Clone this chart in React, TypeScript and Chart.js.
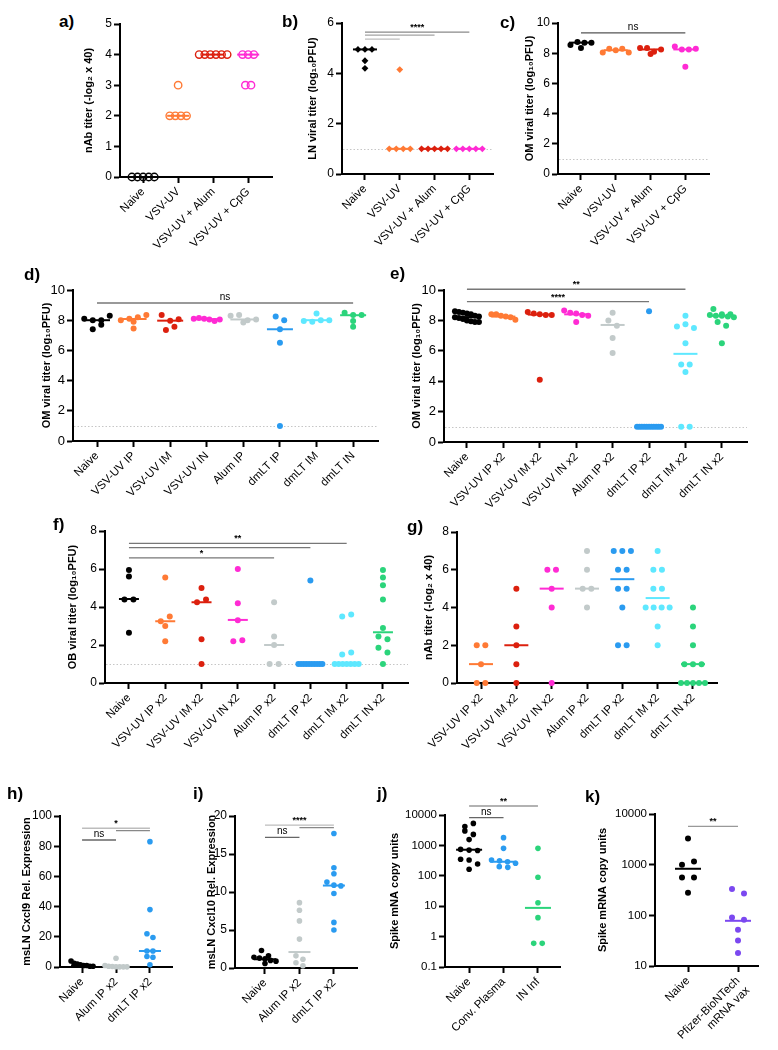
import React, { useEffect, useRef } from "react";
import { Chart, registerables } from "chart.js";

Chart.register(...registerables);

const FONT = "'Liberation Sans', Arial, Helvetica, sans-serif";

// ---------- colours ----------
const BLACK = "#000000";
const ORANGE = "#FF7A35";
const RED = "#DC200E";
const MAGENTA = "#FF2BD4";
const GREY = "#C2CACA";
const BLUE = "#2A9BF0";
const CYAN = "#5EE8FF";
const GREEN = "#2BD47B";
const PURPLE = "#7B48F0";

// ---------- panel a ----------
const abcCategories = ["Naive", "VSV-UV", "VSV-UV + Alum", "VSV-UV + CpG"];
const aYTicks = [0, 1, 2, 3, 4, 5];
const aNaive = [0, 0, 0, 0, 0];
const aVsvUv = [3, 2, 2, 2, 2];
const aAlum = [4, 4, 4, 4, 4, 4];
const aCpg = [4, 4, 4, 3, 3];
const aMedians = [0, 2, 4, 4];

// ---------- panel b ----------
const bYTicks = [0, 2, 4, 6];
const bNaive = [4.95, 4.95, 4.95, 4.5, 4.2];
const bVsvUv = [4.15, 1, 1, 1, 1];
const bAlum = [1, 1, 1, 1, 1];
const bCpg = [1, 1, 1, 1, 1];
const bMedians = [4.95, 1, 1, 1];

// ---------- panel c ----------
const cdeYTicks = [0, 2, 4, 6, 8, 10];
const cNaive = [8.55, 8.75, 8.7, 8.7, 8.35];
const cVsvUv = [8.05, 8.3, 8.2, 8.3, 8.05];
const cAlum = [8.35, 7.95, 8.35, 8.1, 8.25];
const cCpg = [8.45, 8.25, 8.25, 8.3, 7.1];
const cMedians = [8.7, 8.2, 8.25, 8.25];

// ---------- panel d ----------
const dCategories = ["Naive", "VSV-UV IP", "VSV-UV IM", "VSV-UV IN", "Alum IP", "dmLT IP", "dmLT IM", "dmLT IN"];
const dNaive = [8.1, 8.0, 8.0, 8.3, 7.4, 7.7];
const dVsvIP = [8.0, 8.1, 8.2, 8.35, 7.45, 7.9];
const dVsvIM = [8.34, 7.97, 8.06, 7.35, 7.57];
const dVsvIN = [8.1, 8.15, 8.1, 8.05, 7.95, 8.05];
const dAlumIP = [8.3, 8.35, 7.85, 8.0, 8.05];
const dDmltIP = [8.25, 8.0, 7.4, 6.5, 1.0];
const dDmltIM = [7.95, 8.45, 7.9, 8.0, 8.0];
const dDmltIN = [8.5, 8.35, 8.35, 7.57, 7.95];
const dMedians = [8.0, 8.08, 7.97, 8.07, 8.05, 7.4, 8.0, 8.33];

// ---------- panel e ----------
const efCategories = ["Naive", "VSV-UV IP x2", "VSV-UV IM x2", "VSV-UV IN x2", "Alum IP x2", "dmLT IP x2", "dmLT IM x2", "dmLT IN x2"];
const eNaive = [8.6, 8.55, 8.5, 8.45, 8.4, 8.3, 8.25, 8.2, 8.15, 8.1, 8.0, 7.95, 7.9, 7.9];
const eVsvIP = [8.4, 8.4, 8.3, 8.25, 8.2, 8.05];
const eVsvIM = [8.55, 8.45, 8.4, 8.35, 8.35, 4.1];
const eVsvIN = [8.65, 8.5, 8.45, 8.35, 8.3, 7.9];
const eAlumIP = [8.5, 8.0, 7.65, 6.85, 5.85];
const eDmltIP = [8.6, 1, 1, 1, 1, 1, 1, 1, 1, 1, 1, 1];
const eDmltIM = [8.3, 7.6, 7.75, 7.5, 6.5, 5.1, 5.1, 4.6, 1, 1];
const eDmltIN = [8.75, 8.4, 8.4, 8.35, 8.3, 8.3, 8.25, 8.2, 7.9, 7.65, 6.5];
const eMedians = [8.22, 8.25, 8.38, 8.4, 7.7, 1, 5.8, 8.3];

// ---------- panel f ----------
const fgYTicks = [0, 2, 4, 6, 8];
const fNaive = [5.95, 5.6, 4.4, 4.4, 2.65];
const fVsvIP = [5.55, 3.25, 3.5, 3.0, 2.2];
const fVsvIM = [5.0, 4.25, 4.4, 2.3, 1.0];
const fVsvIN = [6.0, 4.2, 3.3, 2.2, 2.25];
const fAlumIP = [4.25, 2.45, 2.0, 1.0, 1.0];
const fDmltIP = [5.4, 1, 1, 1, 1, 1, 1, 1, 1, 1, 1];
const fDmltIM = [3.5, 3.6, 1.5, 1.6, 1, 1, 1, 1, 1, 1, 1];
const fDmltIN = [5.95, 5.55, 5.15, 4.4, 2.9, 2.45, 2.3, 1.85, 1.6, 1.0];
const fMedians = [4.42, 3.25, 4.25, 3.32, 2.0, 1, 1, 2.67];

// ---------- panel g ----------
const gCategories = ["VSV-UV IP x2", "VSV-UV IM x2", "VSV-UV IN x2", "Alum IP x2", "dmLT IP x2", "dmLT IM x2", "dmLT IN x2"];
const gVsvIP = [2, 2, 1, 0, 0];
const gVsvIM = [5, 3, 2, 1, 0];
const gVsvIN = [6, 6, 5, 4, 0];
const gAlumIP = [7, 6, 5, 5, 4];
const gDmltIP = [7, 7, 7, 6, 6, 5, 5, 4, 2, 2];
const gDmltIM = [7, 6, 6, 5, 5, 4, 4, 4, 4, 3, 2];
const gDmltIN = [4, 3, 2, 1, 1, 1, 0, 0, 0, 0, 0];
const gMedians = [1, 2, 5, 5, 5.5, 4.5, 1];

// ---------- panel h ----------
const hiCategories = ["Naive", "Alum IP x2", "dmLT IP x2"];
const hYTicks = [0, 20, 40, 60, 80, 100];
const hNaive = [4, 2.5, 2, 1.5, 1, 1, 0.5, 0.5];
const hAlum = [5.8, 1, 0.5, 0.3, 0.2, 0.1, 0.1, 0.1];
const hDmlt = [83, 38, 22, 19.5, 10.6, 10.6, 7, 6.5, 1.5];
const hMedians = [1, 0.25, 10.6];

// ---------- panel i ----------
const iYTicks = [0, 5, 10, 15, 20];
const iNaive = [2.3, 1.6, 1.4, 1.3, 1.2, 1.0, 0.9, 0.6];
const iAlum = [8.6, 7.6, 6.2, 3.8, 1.6, 1.15, 0.7, 0.3];
const iDmlt = [17.7, 13.2, 12.4, 11.3, 10.9, 10.8, 9.8, 6.0, 5.0];
const iMedians = [1.15, 2.1, 10.85];

// ---------- panel j ----------
const jCategories = ["Naive", "Conv. Plasma", "IN Inf"];
const jYTicks = [0.1, 1, 10, 100, 1000, 10000];
const jNaive = [4150, 5300, 3000, 2300, 1550, 740, 700, 680, 350, 330, 245, 165];
const jPlasma = [1800, 800, 330, 310, 290, 260, 200, 190];
const jInInf = [800, 90, 13, 4.2, 0.6, 0.6];
const jMedians = [720, 290, 8.8];

// ---------- panel k ----------
const kCategories = ["Naive", ["Pfizer-BioNTech", "mRNA vax"]];
const kYTicks = [10, 100, 1000, 10000];
const kNaive = [3300, 1000, 1150, 560, 560, 280];
const kPfizer = [330, 270, 91, 82, 52, 32, 18];
const kMedians = [830, 78];

type Bracket = { from: number; to: number; y: number; color: string; label?: string };
type Panel = {
  letter: string;
  labelPos: [number, number];
  cats: any[];
  groups: number[][];
  colors: string[];
  medians: number[];
  yTitle: string;
  yType: "linear" | "logarithmic";
  yMin: number;
  yMax: number;
  yTicks: number[];
  xMin: number;
  xMax: number;
  L: number;
  R: number;
  T: number;
  B: number;
  titleX: number;
  marker: "open" | "diamond" | "dot";
  radius: number;
  spacing: number;
  maxHalf: number;
  medianHalf: number;
  yTickFont: number;
  lod?: number;
  brackets: Bracket[];
};

const COL4 = [BLACK, ORANGE, RED, MAGENTA];
const COL8 = [BLACK, ORANGE, RED, MAGENTA, GREY, BLUE, CYAN, GREEN];

const panels: Panel[] = [
  {
    letter: "a)", labelPos: [59, 13], cats: abcCategories,
    groups: [aNaive, aVsvUv, aAlum, aCpg], colors: COL4, medians: aMedians,
    yTitle: "nAb titer (-log\u2082 x 40)", yType: "linear", yMin: 0, yMax: 5, yTicks: aYTicks,
    xMin: -0.66, xMax: 3.68, L: 120, R: 272, T: 24, B: 177, titleX: 89,
    marker: "open", radius: 3.7, spacing: 5.6, maxHalf: 14, medianHalf: 11, yTickFont: 12,
    brackets: [],
  },
  {
    letter: "b)", labelPos: [282, 13], cats: abcCategories,
    groups: [bNaive, bVsvUv, bAlum, bCpg], colors: COL4, medians: bMedians,
    yTitle: "LN viral titer (log\u2081\u2080PFU)", yType: "linear", yMin: 0, yMax: 6, yTicks: bYTicks,
    xMin: -0.66, xMax: 3.68, L: 342, R: 493, T: 23, B: 174, titleX: 313,
    marker: "diamond", radius: 3.4, spacing: 7, maxHalf: 13, medianHalf: 12, yTickFont: 12, lod: 1,
    brackets: [
      { from: 0, to: 1, y: 5.36, color: "#bdbdbd" },
      { from: 0, to: 2, y: 5.52, color: "#a3a3a3" },
      { from: 0, to: 3, y: 5.64, color: "#8a8a8a", label: "****" },
    ],
  },
  {
    letter: "c)", labelPos: [500, 14], cats: abcCategories,
    groups: [cNaive, cVsvUv, cAlum, cCpg], colors: COL4, medians: cMedians,
    yTitle: "OM viral titer (log\u2081\u2080PFU)", yType: "linear", yMin: 0, yMax: 10, yTicks: cdeYTicks,
    xMin: -0.66, xMax: 3.68, L: 558, R: 709, T: 23, B: 174, titleX: 530,
    marker: "dot", radius: 3, spacing: 7, maxHalf: 13, medianHalf: 12, yTickFont: 12, lod: 1,
    brackets: [{ from: 0, to: 3, y: 9.34, color: "#555555", label: "ns" }],
  },
  {
    letter: "d)", labelPos: [24, 266], cats: dCategories,
    groups: [dNaive, dVsvIP, dVsvIM, dVsvIN, dAlumIP, dDmltIP, dDmltIM, dDmltIN], colors: COL8, medians: dMedians,
    yTitle: "OM viral titer (log\u2081\u2080PFU)", yType: "linear", yMin: 0, yMax: 10, yTicks: cdeYTicks,
    xMin: -0.656, xMax: 7.68, L: 73, R: 378, T: 290, B: 441, titleX: 47,
    marker: "dot", radius: 3, spacing: 8.5, maxHalf: 13, medianHalf: 13, yTickFont: 13, lod: 1,
    brackets: [{ from: 0, to: 7, y: 9.14, color: "#777777", label: "ns" }],
  },
  {
    letter: "e)", labelPos: [390, 265], cats: efCategories,
    groups: [eNaive, eVsvIP, eVsvIM, eVsvIN, eAlumIP, eDmltIP, eDmltIM, eDmltIN], colors: COL8, medians: eMedians,
    yTitle: "OM viral titer (log\u2081\u2080PFU)", yType: "linear", yMin: 0, yMax: 10, yTicks: cdeYTicks,
    xMin: -0.63, xMax: 7.69, L: 444, R: 747, T: 290, B: 442, titleX: 417,
    marker: "dot", radius: 3, spacing: 8.5, maxHalf: 12, medianHalf: 12, yTickFont: 13, lod: 1,
    brackets: [
      { from: 0, to: 6, y: 10.05, color: "#777777", label: "**" },
      { from: 0, to: 5, y: 9.23, color: "#777777", label: "****" },
    ],
  },
  {
    letter: "f)", labelPos: [53, 516], cats: efCategories,
    groups: [fNaive, fVsvIP, fVsvIM, fVsvIN, fAlumIP, fDmltIP, fDmltIM, fDmltIN], colors: COL8, medians: fMedians,
    yTitle: "OB viral titer (log\u2081\u2080PFU)", yType: "linear", yMin: 0, yMax: 8, yTicks: fgYTicks,
    xMin: -0.66, xMax: 7.69, L: 105, R: 408, T: 531, B: 683, titleX: 73,
    marker: "dot", radius: 3, spacing: 9, maxHalf: 12, medianHalf: 10, yTickFont: 12, lod: 1,
    brackets: [
      { from: 0, to: 4, y: 6.59, color: "#777777", label: "*" },
      { from: 0, to: 5, y: 7.12, color: "#777777" },
      { from: 0, to: 6, y: 7.35, color: "#777777", label: "**" },
    ],
  },
  {
    letter: "g)", labelPos: [407, 518], cats: gCategories,
    groups: [gVsvIP, gVsvIM, gVsvIN, gAlumIP, gDmltIP, gDmltIM, gDmltIN], colors: [ORANGE, RED, MAGENTA, GREY, BLUE, CYAN, GREEN], medians: gMedians,
    yTitle: "nAb titer (-log\u2082 x 40)", yType: "linear", yMin: 0, yMax: 8, yTicks: fgYTicks,
    xMin: -0.68, xMax: 6.68, L: 457, R: 717, T: 532, B: 683, titleX: 429,
    marker: "dot", radius: 3, spacing: 8.6, maxHalf: 12, medianHalf: 12, yTickFont: 12,
    brackets: [],
  },
  {
    letter: "h)", labelPos: [7, 785], cats: hiCategories,
    groups: [hNaive, hAlum, hDmlt], colors: [BLACK, GREY, BLUE], medians: hMedians,
    yTitle: "msLN Cxcl9 Rel. Expression", yType: "linear", yMin: 0, yMax: 100, yTicks: hYTicks,
    xMin: -0.65, xMax: 2.65, L: 60, R: 172, T: 816, B: 967, titleX: 27,
    marker: "dot", radius: 2.8, spacing: 6, maxHalf: 11, medianHalf: 11, yTickFont: 12,
    brackets: [
      { from: 0, to: 1, y: 84.1, color: "#666666", label: "ns" },
      { from: 1, to: 2, y: 90.3, color: "#888888" },
      { from: 0, to: 2, y: 91.9, color: "#bdbdbd", label: "*" },
    ],
  },
  {
    letter: "i)", labelPos: [193, 785], cats: hiCategories,
    groups: [iNaive, iAlum, iDmlt], colors: [BLACK, GREY, BLUE], medians: iMedians,
    yTitle: "msLN Cxcl10 Rel. Expression", yType: "linear", yMin: 0, yMax: 20, yTicks: iYTicks,
    xMin: -0.87, xMax: 2.67, L: 235, R: 357, T: 816, B: 968, titleX: 212,
    marker: "dot", radius: 2.8, spacing: 7, maxHalf: 11, medianHalf: 11, yTickFont: 12,
    brackets: [
      { from: 0, to: 1, y: 17.2, color: "#666666", label: "ns" },
      { from: 1, to: 2, y: 18.47, color: "#888888" },
      { from: 0, to: 2, y: 18.8, color: "#bdbdbd", label: "****" },
    ],
  },
  {
    letter: "j)", labelPos: [377, 785], cats: jCategories,
    groups: [jNaive, jPlasma, jInInf], colors: [BLACK, BLUE, GREEN], medians: jMedians,
    yTitle: "Spike mNA copy units", yType: "logarithmic", yMin: 0.1, yMax: 10000, yTicks: jYTicks,
    xMin: -0.7, xMax: 2.64, L: 445, R: 560, T: 815, B: 967, titleX: 395,
    marker: "dot", radius: 2.8, spacing: 8.5, maxHalf: 12, medianHalf: 13, yTickFont: 11.5,
    brackets: [
      { from: 0, to: 1, y: 8150, color: "#666666", label: "ns" },
      { from: 0, to: 2, y: 19800, color: "#999999", label: "**" },
    ],
  },
  {
    letter: "k)", labelPos: [585, 788], cats: kCategories,
    groups: [kNaive, kPfizer], colors: [BLACK, PURPLE], medians: kMedians,
    yTitle: "Spike mRNA copy units", yType: "logarithmic", yMin: 10, yMax: 10000, yTicks: kYTicks,
    xMin: -0.66, xMax: 1.4, L: 655, R: 758, T: 814, B: 966, titleX: 603,
    marker: "dot", radius: 3, spacing: 12, maxHalf: 13, medianHalf: 13, yTickFont: 11.5,
    brackets: [{ from: 0, to: 1, y: 5700, color: "#999999", label: "**" }],
  },
];

const PAD_TOP = 26;
const PAD_RIGHT = 12;
const X_AXIS_H = 115;

// y pixel height above the bottom of the plot for a value
function heightOf(p: Panel, v: number): number {
  const h = p.B - p.T;
  if (p.yType === "logarithmic") {
    const a = Math.log10(p.yMin);
    const b = Math.log10(p.yMax);
    return ((Math.log10(v) - a) / (b - a)) * h;
  }
  return ((v - p.yMin) / (p.yMax - p.yMin)) * h;
}

// scatter-dot layout: points closer than one marker in y share a row, rows are centred;
// inside a row the points keep the order they have in their array
function columnOffsets(p: Panel, vals: number[]): number[] {
  const pxPerX = (p.R - p.L) / (p.xMax - p.xMin);
  const tol = p.radius * 1.9;
  const order = vals.map((_, i) => i).sort((a, b) => heightOf(p, vals[b]) - heightOf(p, vals[a]));
  const rows: { start: number; items: number[] }[] = [];
  for (const i of order) {
    const py = heightOf(p, vals[i]);
    const row = rows[rows.length - 1];
    if (row && row.start - py < tol) row.items.push(i);
    else rows.push({ start: py, items: [i] });
  }
  const out = new Array(vals.length).fill(0);
  for (const row of rows) {
    const items = row.items.slice().sort((a, b) => a - b);
    const k = items.length;
    const s = k > 1 ? Math.min(p.spacing, (2 * p.maxHalf) / (k - 1)) : 0;
    items.forEach((idx, j) => {
      out[idx] = ((j - (k - 1) / 2) * s) / pxPerX;
    });
  }
  return out;
}

function annotationPlugin(p: Panel) {
  return {
    id: "annot",
    beforeDatasetsDraw(chart: any) {
      if (p.lod === undefined) return;
      const { ctx, chartArea, scales } = chart;
      const y = Math.round(scales.y.getPixelForValue(p.lod)) + 0.5;
      ctx.save();
      ctx.setLineDash([1.5, 2]);
      ctx.strokeStyle = "#c6c6c6";
      ctx.lineWidth = 1;
      ctx.beginPath();
      ctx.moveTo(chartArea.left + 1, y);
      ctx.lineTo(chartArea.right, y);
      ctx.stroke();
      ctx.restore();
    },
    afterDatasetsDraw(chart: any) {
      const { ctx, scales } = chart;
      ctx.save();
      p.medians.forEach((m, i) => {
        const x = scales.x.getPixelForValue(i);
        const y = scales.y.getPixelForValue(m);
        ctx.strokeStyle = p.colors[i];
        ctx.lineWidth = 2;
        ctx.beginPath();
        ctx.moveTo(x - p.medianHalf, y);
        ctx.lineTo(x + p.medianHalf, y);
        ctx.stroke();
      });
      p.brackets.forEach((b) => {
        const x1 = scales.x.getPixelForValue(b.from);
        const x2 = scales.x.getPixelForValue(b.to);
        const y = scales.y.getPixelForValue(b.y);
        ctx.strokeStyle = b.color;
        ctx.lineWidth = 1.3;
        ctx.beginPath();
        ctx.moveTo(x1, y);
        ctx.lineTo(x2, y);
        ctx.stroke();
        if (b.label) {
          const stars = b.label.indexOf("*") >= 0;
          ctx.fillStyle = "#000";
          ctx.font = (stars ? "bold 9px " : "10px ") + FONT;
          ctx.textAlign = "center";
          ctx.textBaseline = "alphabetic";
          ctx.fillText(b.label, (x1 + x2) / 2, y - (stars ? 2 : 3));
        }
      });
      ctx.restore();
    },
  };
}

function PanelChart({ p }: { p: Panel }) {
  const ref = useRef<HTMLCanvasElement>(null);
  const left = Math.round(p.titleX - 6.6);
  const wY = p.L - left;
  const width = p.R + PAD_RIGHT - left;
  const top = p.T - PAD_TOP;
  const height = p.B - top + X_AXIS_H;

  useEffect(() => {
    const canvas = ref.current;
    if (!canvas) return;
    const datasets = p.groups.map((vals, gi) => {
      const off = columnOffsets(p, vals);
      const color = p.colors[gi];
      return {
        data: vals.map((v, k) => ({ x: gi + off[k], y: v })),
        pointStyle: p.marker === "diamond" ? "rectRot" : "circle",
        pointRadius: p.radius,
        pointHoverRadius: p.radius,
        pointBackgroundColor: p.marker === "open" ? "rgba(0,0,0,0)" : color,
        pointBorderColor: color,
        pointBorderWidth: p.marker === "open" ? 1.4 : 0,
        showLine: false,
        clip: false,
      };
    });
    const chart = new Chart(canvas, {
      type: "scatter",
      data: { datasets } as any,
      options: {
        animation: false,
        responsive: false,
        maintainAspectRatio: false,
        events: [],
        layout: { padding: { left: 0, top: PAD_TOP, right: PAD_RIGHT, bottom: 0 } },
        plugins: { legend: { display: false }, tooltip: { enabled: false } },
        scales: {
          x: {
            type: "linear",
            min: p.xMin,
            max: p.xMax,
            offset: false,
            afterBuildTicks: (s: any) => {
              s.ticks = p.cats.map((_, i) => ({ value: i }));
            },
            afterFit: (s: any) => {
              s.height = X_AXIS_H;
            },
            ticks: {
              autoSkip: false,
              maxRotation: 45,
              minRotation: 45,
              padding: 2,
              color: "#000",
              font: { family: FONT, size: 11.5 },
              callback: (v: any) => p.cats[Math.round(Number(v))],
            },
            grid: {
              drawOnChartArea: false,
              drawTicks: true,
              tickLength: 6,
              tickWidth: 2,
              tickColor: "#000",
              color: "#000",
            },
            border: { display: true, color: "#000", width: 2 },
          },
          y: {
            type: p.yType,
            min: p.yMin,
            max: p.yMax,
            afterBuildTicks: (s: any) => {
              s.ticks = p.yTicks.map((v) => ({ value: v }));
            },
            afterFit: (s: any) => {
              s.width = wY;
            },
            ticks: {
              padding: 2,
              color: "#000",
              font: { family: FONT, size: p.yTickFont },
              callback: (v: any) => String(v),
            },
            grid: {
              drawOnChartArea: false,
              drawTicks: true,
              tickLength: 6,
              tickWidth: 2,
              tickColor: "#000",
              color: "#000",
            },
            border: { display: true, color: "#000", width: 2 },
            title: {
              display: true,
              text: p.yTitle,
              color: "#000",
              padding: 0,
              font: { family: FONT, size: 11, weight: "bold", lineHeight: 1.2 },
            },
          },
        },
      } as any,
      plugins: [annotationPlugin(p)],
    });
    return () => chart.destroy();
  }, []);

  return (
    <canvas
      ref={ref}
      width={width}
      height={height}
      style={{ position: "absolute", left, top, width, height }}
    />
  );
}

export default function App() {
  return (
    <div
      style={{
        position: "absolute",
        left: 0,
        top: 0,
        width: 778,
        height: 1050,
        overflow: "hidden",
        background: "#fff",
      }}
    >
      {panels.map((p) => (
        <PanelChart key={p.letter} p={p} />
      ))}
      {panels.map((p) => (
        <div
          key={"lbl" + p.letter}
          style={{
            position: "absolute",
            left: p.labelPos[0],
            top: p.labelPos[1],
            fontFamily: FONT,
            fontWeight: "bold",
            fontSize: 17,
            lineHeight: "17px",
            color: "#000",
            zIndex: 2,
          }}
        >
          {p.letter}
        </div>
      ))}
    </div>
  );
}
